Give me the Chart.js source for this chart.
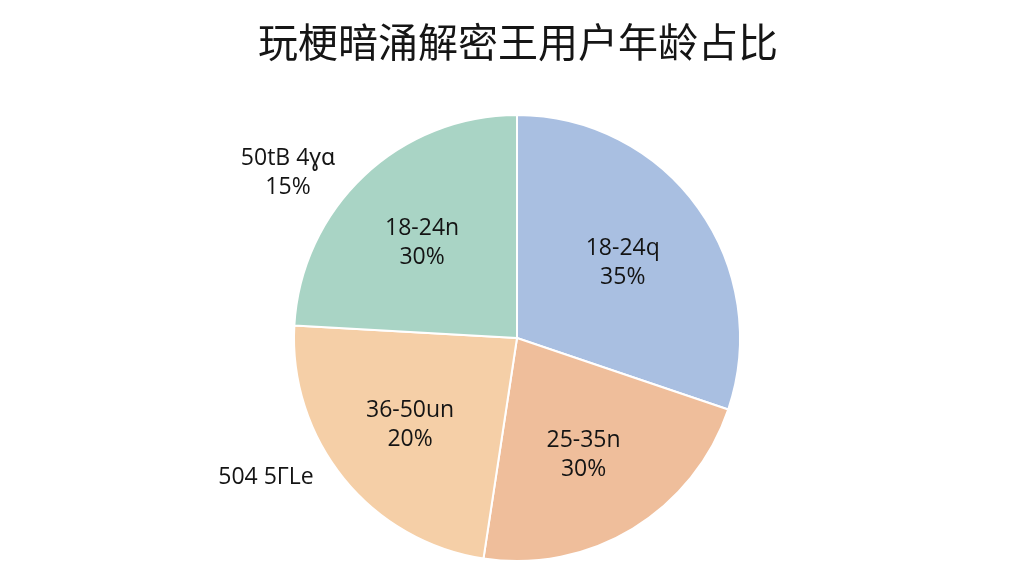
<!DOCTYPE html>
<html>
<head>
<meta charset="utf-8">
<script src="https://cdn.jsdelivr.net/npm/chart.js@4"></script>
<style>
  html, body { margin: 0; padding: 0; background: #ffffff; }
  #wrap { width: 1024px; height: 576px; position: relative; }
</style>
</head>
<body>
<div id="wrap"><canvas id="age-chart" width="1024" height="576"></canvas></div>
<script>
const chartTitle = "玩梗暗涌解密王用户年龄占比";
const sliceNames = ["18-24q", "25-35n", "36-50un", "18-24n"];
const sliceShares = [30.2, 22.2, 23.5, 24.1];
const slicePercentText = ["35%", "30%", "20%", "30%"];
const sliceColors = ["#a9bfe1", "#efbe9b", "#f5cfa7", "#a9d4c5"];
const outsideNotes = [["50tB 4ɣɑ", "15%"], ["504 5ΓLe"]];

// labels drawn on top of the arcs + the outside notes + title
const labelPlugin = {
  id: "sliceLabels",
  afterDatasetsDraw(chart) {
    const { ctx } = chart;
    const arcs = chart.getDatasetMeta(0).data;
    ctx.save();
    ctx.fillStyle = "#141414";
    ctx.textAlign = "center";
    ctx.textBaseline = "middle";
    ctx.font = "23px 'Open Sans', 'Noto Sans', sans-serif";
    arcs.forEach((arc, i) => {
      const mid = (arc.startAngle + arc.endAngle) / 2;
      const r = arc.outerRadius * 0.6;
      const x = arc.x + Math.cos(mid) * r;
      const y = arc.y + Math.sin(mid) * r;
      ctx.fillText(sliceNames[i], x - 3, y - 12);
      ctx.fillText(slicePercentText[i], x - 3, y + 17);
    });

    const cx = arcs[0].x;
    const cy = arcs[0].y;
    ctx.fillText(outsideNotes[0][0], cx - 229, cy - 180);
    ctx.fillText(outsideNotes[0][1], cx - 229, cy - 151);
    ctx.fillText(outsideNotes[1][0], cx - 251, cy + 139);

    ctx.font = "400 40px 'Noto Sans CJK SC', sans-serif";
    ctx.fillStyle = "#151515";
    ctx.fillText(chartTitle, cx + 1, 42);
    ctx.restore();
  },
};

new Chart(document.getElementById("age-chart"), {
  type: "pie",
  data: {
    labels: sliceNames,
    datasets: [
      {
        data: sliceShares,
        backgroundColor: sliceColors,
        borderColor: "#ffffff",
        borderWidth: 2,
      },
    ],
  },
  options: {
    responsive: false,
    animation: false,
    layout: {
      padding: { top: 114, bottom: 14, left: 10, right: 0 },
    },
    plugins: {
      legend: { display: false },
      tooltip: { enabled: false },
      title: { display: false },
    },
  },
  plugins: [labelPlugin],
});
</script>
</body>
</html>
